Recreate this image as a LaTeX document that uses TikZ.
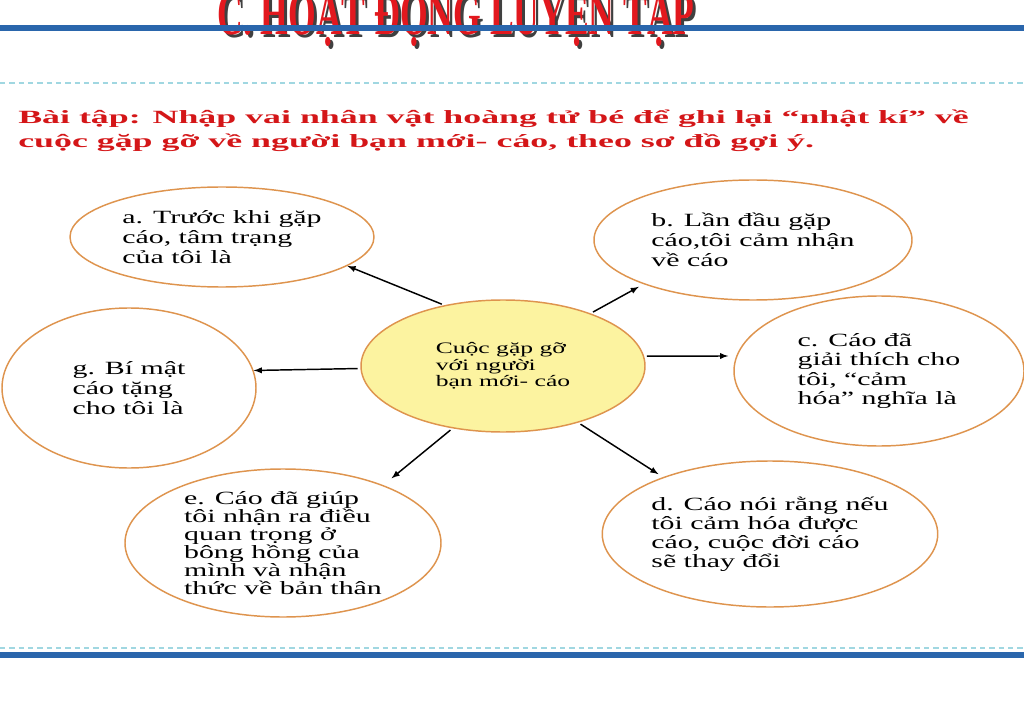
\documentclass[tikz,border=0pt]{standalone}
\usepackage{fontspec}
\setmainfont{Liberation Serif}
\newfontfamily\widefont[FakeStretch=1.6]{Liberation Serif}
\newfontfamily\taskfont[FakeStretch=1.92]{Liberation Serif}
\newfontfamily\titlefont[FakeStretch=0.58]{Liberation Serif}
\usetikzlibrary{shapes.geometric}
\definecolor{slideblue}{RGB}{42,102,172}
\definecolor{dotcyan}{RGB}{160,215,225}
\definecolor{rimorange}{RGB}{222,148,78}
\definecolor{hubyellow}{RGB}{252,243,160}
\definecolor{taskred}{RGB}{212,22,24}
\definecolor{titlered}{RGB}{226,24,30}
\tikzset{
  idea/.style={ellipse, draw=rimorange, line width=1.1pt, inner sep=0pt, align=left,
    font=\widefont\fontsize{14}{15}\selectfont},
  radii/.style 2 args={minimum width=1.5pt*#1, minimum height=1.5pt*#2},
  link/.style={->, >=latex, line width=1.1pt, shorten <=2pt},
  rule/.style={slideblue, line width=4.5pt},
  dots/.style={dotcyan, line width=1.8pt, dash pattern=on 4pt off 3pt},
  heading/.style={anchor=base, inner sep=0pt, font=\titlefont\bfseries\fontsize{46}{46}\selectfont}
}
\begin{document}
\begin{tikzpicture}[x=0.75pt,y=-0.75pt]
\useasboundingbox (0,0) rectangle (1024,702);
\clip (0,0) rectangle (1024,702);
% heading of the slide
\node[heading, text=black!75] (titleshade) at (459,38) {C. HOẠT ĐỘNG LUYỆN TẬP};
\node[heading, text=titlered] (title) at (456,35) {C. HOẠT ĐỘNG LUYỆN TẬP};
\draw[rule] (0,28) -- (1024,28);
\draw[dots] (0,83) -- (1024,83);
\node[anchor=north west, inner sep=0pt, align=left, text=taskred,
  font=\taskfont\bfseries\fontsize{14}{17.5}\selectfont] (task) at (18,110)
  {Bài tập: Nhập vai nhân vật hoàng tử bé để ghi lại “nhật kí” về\\
   cuộc gặp gỡ về người bạn mới- cáo, theo sơ đồ gợi ý.};
% mind map
\node[idea, radii={142}{66}, fill=hubyellow, font=\widefont\fontsize{12}{12.4}\selectfont]
  (hub) at (503,366) {Cuộc gặp gỡ\\với người\\bạn mới- cáo};
\node[idea, radii={152}{50}] (a) at (222,237) {a. Trước khi gặp\\cáo, tâm trạng\\của tôi là};
\node[idea, radii={159}{60}] (b) at (753,240) {b. Lần đầu gặp\\cáo,tôi cảm nhận\\về cáo};
\node[idea, radii={145}{75}, font=\widefont\fontsize{14}{14.3}\selectfont]
  (c) at (879,371) {c. Cáo đã\\giải thích cho\\tôi, “cảm\\hóa” nghĩa là};
\node[idea, radii={165}{73}, font=\widefont\fontsize{14}{14.3}\selectfont]
  (d) at (770,534) {d. Cáo nói rằng nếu\\tôi cảm hóa được\\cáo, cuộc đời cáo\\sẽ thay đổi};
\node[idea, radii={158}{74}, font=\widefont\fontsize{14}{13.6}\selectfont]
  (e) at (283,543) {e. Cáo đã giúp\\tôi nhận ra điều\\quan trọng ở\\bông hồng của\\mình và nhận\\thức về bản thân};
\node[idea, radii={127}{80}] (g) at (129,388) {g. Bí mật\\cáo tặng\\cho tôi là};
\draw[link] (hub.134) -- (a.-13);
\draw[link, shorten >=4pt] (hub.31) -- (b.202);
\draw[link, shorten >=6pt] (hub.4) -- (c.174);
\draw[link] (hub.181) -- (g.8);
\draw[link, shorten >=8pt] (hub.231) -- (e.30);
\draw[link, shorten >=4pt] (hub.-37) -- (d.152);
% foot of the slide
\draw[dots] (0,648) -- (1024,648);
\draw[rule] (0,655) -- (1024,655);
\end{tikzpicture}
\end{document}
